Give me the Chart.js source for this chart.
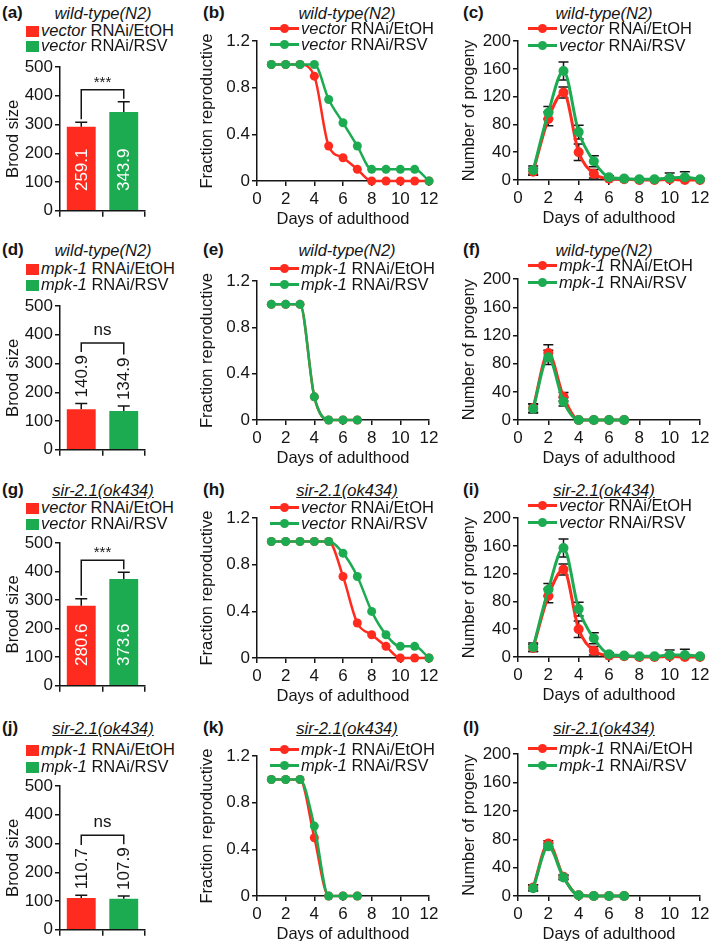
<!DOCTYPE html>
<html>
<head>
<meta charset="utf-8">
<script src="https://cdn.jsdelivr.net/npm/chart.js@4.4.1/dist/chart.umd.min.js"></script>
<style>
  body { margin: 0; background: #fff; }
  #fig { position: relative; width: 709px; height: 941px; overflow: hidden; font-family: "Liberation Sans", Arial, sans-serif; color: #151515; }
  .cbox { position: absolute; }
  .lbl { position: absolute; white-space: nowrap; font-size: 16.5px; line-height: 18px; transform: translateY(-50%); }
  .mid { transform: translate(-50%, -50%); }
  .letter { font-weight: bold; font-size: 17px; }
  .title { font-style: italic; }
  .u { text-decoration: underline; }
  .sw { display: inline-block; width: 13px; height: 11px; margin-right: 2px; vertical-align: -1px; }
  .ln { display: inline-block; position: relative; width: 29px; height: 3px; margin-right: 2px; vertical-align: 4px; }
  .ln .dot { position: absolute; left: 10px; top: -3px; width: 9px; height: 9px; border-radius: 50%; }
</style>
</head>
<body>
<div id="fig"></div>
<script>
// ---- data ----
var days = [1, 2, 3, 4, 5, 6, 7, 8, 9, 10, 11, 12];
var daysMpk = [1, 2, 3, 4, 5, 6, 7];

var broodTicks = [0, 100, 200, 300, 400, 500];
var fracTicks = [0, 0.4, 0.8, 1.2];
var progenyTicks = [0, 40, 80, 120, 160, 200];
var dayTicks = [0, 2, 4, 6, 8, 10, 12];

// brood size, [EtOH, RSV]; bar heights as drawn, printed means as labelled
var broodWtVector = [292, 343.9];
var broodWtVectorErr = [16, 35];
var broodWtVectorText = ["259.1", "343.9"];
var broodWtMpk = [140.9, 134.9];
var broodWtMpkErr = [20, 17];
var broodWtMpkText = ["140.9", "134.9"];
var broodSirVector = [280.6, 373.6];
var broodSirVectorErr = [24, 24];
var broodSirVectorText = ["280.6", "373.6"];
var broodSirMpk = [110.7, 107.9];
var broodSirMpkErr = [9, 10];
var broodSirMpkText = ["110.7", "107.9"];

// fraction reproductive
var fracWtVectorEtoh = [1, 1, 1, 0.9, 0.3, 0.2, 0.1, 0, 0, 0, 0, 0];
var fracWtVectorRsv = [1, 1, 1, 1, 0.7, 0.5, 0.3, 0.1, 0.1, 0.1, 0.1, 0];
var fracWtMpkEtoh = [1, 1, 1, 0.2, 0, 0, 0];
var fracWtMpkRsv = [1, 1, 1, 0.2, 0, 0, 0];
var fracSirVectorEtoh = [1, 1, 1, 1, 1, 0.7, 0.3, 0.2, 0.1, 0, 0, 0];
var fracSirVectorRsv = [1, 1, 1, 1, 1, 0.9, 0.7, 0.4, 0.2, 0.1, 0.1, 0];
var fracSirMpkEtoh = [1, 1, 1, 0.5, 0, 0, 0];
var fracSirMpkRsv = [1, 1, 1, 0.6, 0, 0, 0];

// number of progeny per day, with SEM
var progWtVectorEtoh = [12, 88, 126, 40, 9, 2, 1, 0, 0, 1, 0, 0];
var progWtVectorEtohErr = [5, 10, 8, 12, 6, 1, 1, 0, 0, 3, 2, 1];
var progWtVectorRsv = [14, 97, 157, 69, 27, 4, 2, 1, 1, 3, 4, 1];
var progWtVectorRsvErr = [6, 9, 13, 10, 8, 2, 1, 1, 1, 7, 8, 1];
var progWtMpkEtoh = [17, 95, 33, 0, 0, 0, 0];
var progWtMpkEtohErr = [6, 12, 6, 0, 0, 0, 0];
var progWtMpkRsv = [16, 89, 26, 0, 0, 0, 0];
var progWtMpkRsvErr = [6, 10, 6, 0, 0, 0, 0];
var progSirVectorEtoh = [13, 88, 126, 40, 9, 2, 1, 0, 0, 1, 0, 0];
var progSirVectorEtohErr = [5, 10, 8, 12, 6, 1, 1, 0, 0, 3, 2, 1];
var progSirVectorRsv = [14, 97, 157, 69, 27, 4, 2, 1, 1, 3, 3, 1];
var progSirVectorRsvErr = [6, 9, 13, 10, 8, 2, 1, 1, 1, 7, 8, 1];
var progSirMpkEtoh = [12, 74, 27, 1, 0, 0, 0];
var progSirMpkEtohErr = [4, 4, 3, 0, 0, 0, 0];
var progSirMpkRsv = [11, 70, 26, 1, 0, 0, 0];
var progSirMpkRsvErr = [4, 4, 3, 0, 0, 0, 0];

var RED = "#FF2B1E";
var GREEN = "#1DAB52";
var INK = "#151515";
var FONT = '"Liberation Sans", Arial, sans-serif';

var fig = document.getElementById("fig");

// error bars for the line panels
var errorBars = {
  id: "errorBars",
  beforeDatasetsDraw: function (chart, args, opts) {
    if (!opts.sets) return;
    var ctx = chart.ctx, ys = chart.scales.y;
    ctx.save();
    ctx.strokeStyle = INK;
    ctx.lineWidth = 1.5;
    opts.sets.forEach(function (errs, di) {
      var pts = chart.getDatasetMeta(di).data;
      var vals = chart.data.datasets[di].data;
      pts.forEach(function (p, i) {
        if (!errs[i]) return;
        var hi = ys.getPixelForValue(vals[i].y + errs[i]);
        var lo = ys.getPixelForValue(Math.max(0, vals[i].y - errs[i]));
        ctx.beginPath();
        ctx.moveTo(p.x, hi); ctx.lineTo(p.x, lo);
        ctx.moveTo(p.x - 5, hi); ctx.lineTo(p.x + 5, hi);
        ctx.moveTo(p.x - 5, lo); ctx.lineTo(p.x + 5, lo);
        ctx.stroke();
      });
    });
    ctx.restore();
  }
};

// error bars, value labels and significance bracket for the brood panels
var broodMarks = {
  id: "broodMarks",
  afterDatasetsDraw: function (chart, args, opts) {
    if (!opts.err) return;
    var ctx = chart.ctx, ys = chart.scales.y;
    var vals = chart.data.datasets[0].data;
    var bars = chart.getDatasetMeta(0).data;
    var foot = [];
    ctx.save();
    ctx.strokeStyle = INK;
    ctx.lineWidth = 1.5;
    ctx.font = "17px " + FONT;
    bars.forEach(function (bar, i) {
      var top = ys.getPixelForValue(vals[i] + opts.err[i]);
      ctx.beginPath();
      ctx.moveTo(bar.x, bar.y); ctx.lineTo(bar.x, top);
      ctx.moveTo(bar.x - 6, top); ctx.lineTo(bar.x + 6, top);
      ctx.stroke();
      var text = opts.text[i];
      var w = ctx.measureText(text).width;
      var inside = vals[i] >= 200;
      ctx.save();
      ctx.translate(bar.x, inside ? bar.base - 19 : top - 6);
      ctx.rotate(-Math.PI / 2);
      ctx.fillStyle = inside ? "#fff" : INK;
      ctx.textAlign = "left";
      ctx.textBaseline = "middle";
      ctx.fillText(text, 0, 1);
      ctx.restore();
      foot.push(inside ? top - 3 : top - 6 - w - 3);
    });
    var yb = Math.min(foot[0], foot[1]) - 9;
    ctx.beginPath();
    ctx.moveTo(bars[0].x, foot[0]); ctx.lineTo(bars[0].x, yb);
    ctx.lineTo(bars[1].x, yb); ctx.lineTo(bars[1].x, foot[1]);
    ctx.stroke();
    ctx.fillStyle = INK;
    ctx.textAlign = "center";
    ctx.textBaseline = "alphabetic";
    ctx.font = (opts.sig === "ns" ? "17px " : "15px ") + FONT;
    ctx.fillText(opts.sig, (bars[0].x + bars[1].x) / 2, yb - (opts.sig === "ns" ? 8 : 3));
    ctx.restore();
  }
};

Chart.register(errorBars, broodMarks);

function addLabel(x, y, html, cls) {
  var d = document.createElement("div");
  d.className = "lbl " + (cls || "");
  d.style.left = x + "px";
  d.style.top = y + "px";
  d.innerHTML = html;
  fig.appendChild(d);
}

// plot = [left, right, top, bottom] of the plotting area in page pixels
function makeCanvas(plot, yW, padT, padR, xH) {
  var box = document.createElement("div");
  box.className = "cbox";
  var w = yW + plot[1] - plot[0] + padR;
  var h = padT + plot[3] - plot[2] + xH;
  box.style.left = (plot[0] - yW) + "px";
  box.style.top = (plot[2] - padT) + "px";
  var c = document.createElement("canvas");
  c.width = w;
  c.height = h;
  c.style.width = w + "px";
  c.style.height = h + "px";
  box.appendChild(c);
  fig.appendChild(box);
  return c;
}

function fixedTicks(arr) {
  return function (s) {
    s.ticks = arr.map(function (v) { return { value: v }; });
  };
}

function yAxis(arr, title, width, fmt, titlePad) {
  return {
    type: "linear",
    min: arr[0],
    max: arr[arr.length - 1],
    afterBuildTicks: fixedTicks(arr),
    afterFit: function (s) { s.width = width; },
    border: { display: true, color: INK, width: 1.5 },
    grid: { display: true, drawOnChartArea: false, drawTicks: true, tickLength: 5, color: INK, lineWidth: 1.5 },
    ticks: { color: INK, font: { family: FONT, size: 17 }, padding: 2, callback: fmt },
    title: { display: true, text: title, color: INK, font: { family: FONT, size: 16.5 }, padding: { top: titlePad || 0, bottom: 0 } }
  };
}

function dayAxis(height) {
  return {
    type: "linear",
    min: 0,
    max: 12,
    afterBuildTicks: fixedTicks(dayTicks),
    afterFit: function (s) { s.height = height; },
    border: { display: true, color: INK, width: 1.5 },
    grid: { display: true, drawOnChartArea: false, drawTicks: true, tickLength: 5, color: INK, lineWidth: 1.5 },
    ticks: { color: INK, font: { family: FONT, size: 17 }, padding: 3, maxRotation: 0, autoSkip: false },
    title: { display: true, text: "Days of adulthood", color: INK, font: { family: FONT, size: 16.5 }, padding: { top: 0, bottom: 0 } }
  };
}

function toPoints(xs, ys) {
  return xs.map(function (d, i) { return { x: d, y: ys[i] }; });
}

function broodChart(plot, vals, errs, text, sig) {
  var c = makeCanvas(plot, 60, 14, 15, 12);
  new Chart(c, {
    type: "bar",
    data: {
      labels: ["EtOH", "RSV"],
      datasets: [{
        data: vals,
        backgroundColor: [RED, GREEN],
        borderWidth: 0,
        barPercentage: 0.68,
        categoryPercentage: 1
      }]
    },
    options: {
      responsive: false,
      animation: false,
      layout: { padding: { top: 14, right: 15, left: 0, bottom: 0 } },
      plugins: { legend: { display: false }, tooltip: { enabled: false }, broodMarks: { err: errs, text: text, sig: sig } },
      scales: {
        x: {
          type: "category",
          offset: true,
          afterFit: function (s) { s.height = 12; },
          border: { display: true, color: INK, width: 1.5 },
          grid: { display: true, offset: true, drawOnChartArea: false, drawTicks: true, tickLength: 6, color: INK, lineWidth: 1.5 },
          ticks: { display: false }
        },
        y: yAxis(broodTicks, "Brood size", 60, function (v) { return v; }, 4)
      }
    }
  });
}

function lineChart(plot, xs, redVals, greenVals, yTicks, fmt, yTitle, yW, radius, lw, errs) {
  var c = makeCanvas(plot, yW, 12, 14, 48);
  var plugins = { legend: { display: false }, tooltip: { enabled: false } };
  if (errs) plugins.errorBars = { sets: errs };
  function series(vals, color, order) {
    return {
      data: toPoints(xs, vals),
      borderColor: color,
      backgroundColor: color,
      pointBackgroundColor: color,
      pointBorderColor: color,
      pointBorderWidth: 0,
      pointRadius: radius,
      borderWidth: lw,
      cubicInterpolationMode: "monotone",
      clip: false,
      order: order
    };
  }
  new Chart(c, {
    type: "line",
    data: { datasets: [series(redVals, RED, 2), series(greenVals, GREEN, 1)] },
    options: {
      responsive: false,
      animation: false,
      layout: { padding: { top: 12, right: 14, left: 0, bottom: 0 } },
      plugins: plugins,
      scales: {
        x: dayAxis(48),
        y: yAxis(yTicks, yTitle, yW, fmt)
      }
    }
  });
}

function fracFmt(v) { return v === 0 ? "0" : v.toFixed(1); }
function progFmt(v) { return String(v); }

// ---- column 1: brood size ----
broodChart([60, 145, 67, 211], broodWtVector, broodWtVectorErr, broodWtVectorText, "***");
broodChart([60, 145, 306, 450], broodWtMpk, broodWtMpkErr, broodWtMpkText, "ns");
broodChart([60, 145, 543, 686], broodSirVector, broodSirVectorErr, broodSirVectorText, "***");
broodChart([60, 145, 786, 930], broodSirMpk, broodSirMpkErr, broodSirMpkText, "ns");

// ---- column 2: fraction reproductive ----
lineChart([257, 429, 41, 181], days, fracWtVectorEtoh, fracWtVectorRsv, fracTicks, fracFmt, "Fraction reproductive", 59, 4.5, 2.5);
lineChart([257, 429, 281, 420], daysMpk, fracWtMpkEtoh, fracWtMpkRsv, fracTicks, fracFmt, "Fraction reproductive", 59, 4.5, 2.5);
lineChart([257, 429, 518, 658], days, fracSirVectorEtoh, fracSirVectorRsv, fracTicks, fracFmt, "Fraction reproductive", 59, 4.5, 2.5);
lineChart([257, 429, 756, 896], daysMpk, fracSirMpkEtoh, fracSirMpkRsv, fracTicks, fracFmt, "Fraction reproductive", 59, 4.5, 2.5);

// ---- column 3: number of progeny ----
lineChart([518, 700, 41, 180], days, progWtVectorEtoh, progWtVectorRsv, progenyTicks, progFmt, "Number of progeny", 58, 5, 3,
  [progWtVectorEtohErr, progWtVectorRsvErr]);
lineChart([518, 700, 279, 420], daysMpk, progWtMpkEtoh, progWtMpkRsv, progenyTicks, progFmt, "Number of progeny", 58, 5, 3,
  [progWtMpkEtohErr, progWtMpkRsvErr]);
lineChart([518, 700, 518, 657], days, progSirVectorEtoh, progSirVectorRsv, progenyTicks, progFmt, "Number of progeny", 58, 5, 3,
  [progSirVectorEtohErr, progSirVectorRsvErr]);
lineChart([518, 700, 754, 896], daysMpk, progSirMpkEtoh, progSirMpkRsv, progenyTicks, progFmt, "Number of progeny", 58, 5, 3,
  [progSirMpkEtohErr, progSirMpkRsvErr]);

// ---- letters, strain titles and legends ----
var rowY = [13, 250, 490, 728];
var letters = [["(a)", "(b)", "(c)"], ["(d)", "(e)", "(f)"], ["(g)", "(h)", "(i)"], ["(j)", "(k)", "(l)"]];
var strains = ["wild-type(N2)", "wild-type(N2)", '<span class="u">sir-2.1(ok434)</span>', '<span class="u">sir-2.1(ok434)</span>'];
var rnai = ["vector", "mpk-1", "vector", "mpk-1"];
var barLegendY = [[29.5, 44.5], [268, 284], [507, 523], [749, 766]];
var fracLegendY = [[28, 44], [268, 284], [507, 523], [749, 765]];
var progLegendY = [[28, 45], [265, 282], [505, 522], [748, 765]];
var colX = [2, 203, 463];
var titleX = [103, 347, 604];

function swatch(color) {
  return '<span class="sw" style="background:' + color + '"></span>';
}
function lineKey(color) {
  return '<span class="ln" style="background:' + color + '"><span class="dot" style="background:' + color + '"></span></span>';
}

for (var r = 0; r < 4; r++) {
  for (var k = 0; k < 3; k++) {
    addLabel(colX[k], rowY[r], letters[r][k], "letter");
    addLabel(titleX[k], rowY[r], strains[r], "mid title");
  }
  var etoh = "<i>" + rnai[r] + "</i> RNAi/EtOH";
  var rsv = "<i>" + rnai[r] + "</i> RNAi/RSV";
  addLabel(26, barLegendY[r][0], swatch(RED) + etoh);
  addLabel(26, barLegendY[r][1], swatch(GREEN) + rsv);
  addLabel(270, fracLegendY[r][0], lineKey(RED) + etoh);
  addLabel(270, fracLegendY[r][1], lineKey(GREEN) + rsv);
  addLabel(528, progLegendY[r][0], lineKey(RED) + etoh);
  addLabel(528, progLegendY[r][1], lineKey(GREEN) + rsv);
}
</script>
</body>
</html>
